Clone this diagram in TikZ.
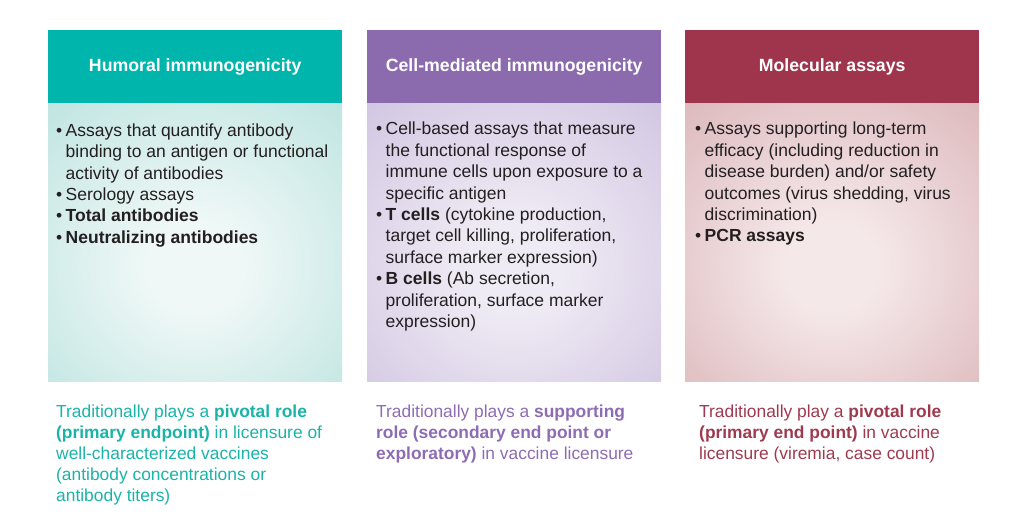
\documentclass[tikz,border=0pt]{standalone}
\usepackage{fontspec}
\setmainfont{Liberation Sans}
\definecolor{thead}{HTML}{00B5AC}
\definecolor{phead}{HTML}{8B6BAD}
\definecolor{rhead}{HTML}{9E354C}
\definecolor{ttxt}{HTML}{1AB3A8}
\definecolor{ptxt}{HTML}{8D6CB3}
\definecolor{rtxt}{HTML}{9E3A4F}
\definecolor{tin}{HTML}{EFF8F7}
\definecolor{tout}{HTML}{A5DAD5}
\definecolor{pin}{HTML}{EFEBF4}
\definecolor{pout}{HTML}{C2B2D8}
\definecolor{rin}{HTML}{F5E8E9}
\definecolor{rout}{HTML}{CF9FA4}
\definecolor{ink}{HTML}{231F20}
\pgfdeclareradialshading{glowT}{\pgfpoint{0bp}{-5bp}}{color(0bp)=(tin); color(8bp)=(tin); color(54bp)=(tout); color(80bp)=(tout)}
\pgfdeclareradialshading{glowP}{\pgfpoint{0bp}{-5bp}}{color(0bp)=(pin); color(8bp)=(pin); color(54bp)=(pout); color(80bp)=(pout)}
\pgfdeclareradialshading{glowR}{\pgfpoint{0bp}{-5bp}}{color(0bp)=(rin); color(8bp)=(rin); color(54bp)=(rout); color(80bp)=(rout)}
\newcommand{\bul}{\makebox[9.5pt][l]{•}}
\newcommand{\ind}{\hspace*{9.5pt}}
\tikzset{
  hdr/.style={anchor=north west, minimum width=294pt, minimum height=73pt, inner sep=0pt, text=white, font=\bfseries\fontsize{17.7}{20}\selectfont},
  bodybox/.style={anchor=north west, minimum width=294pt, minimum height=278pt, inner sep=0pt},
  bodytext/.style={anchor=north west, align=left, inner sep=0pt, text=ink, font=\fontsize{17.5}{21.4}\selectfont},
  bottext/.style={anchor=north west, align=left, inner sep=0pt, font=\fontsize{17.4}{21}\selectfont}
}
\begin{document}
\begin{tikzpicture}[x=1pt,y=-1pt]
\useasboundingbox (0,0) rectangle (1031,526);
% column 1
\node[hdr, fill=thead] (h1) at (48,30) {Humoral immunogenicity};
\node[bodybox, shading=glowT] (b1) at (48,103) {};
\node[bodytext] (t1) at (56,123.5) {\bul Assays that quantify antibody\\ \ind binding to an antigen or functional\\ \ind activity of antibodies\\ \bul Serology assays\\ \bul\textbf{Total antibodies}\\ \bul\textbf{Neutralizing antibodies}};
\node[bottext, text=ttxt] (c1) at (56,404.5) {Traditionally plays a \textbf{pivotal role}\\ \textbf{(primary endpoint)} in licensure of\\ well-characterized vaccines\\ (antibody concentrations or\\ antibody titers)};
% column 2
\node[hdr, fill=phead] (h2) at (367,30) {Cell-mediated immunogenicity};
\node[bodybox, shading=glowP] (b2) at (367,103) {};
\node[bodytext] (t2) at (376,122) {\bul Cell-based assays that measure\\ \ind the functional response of\\ \ind immune cells upon exposure to a\\ \ind specific antigen\\ \bul\textbf{T cells} (cytokine production,\\ \ind target cell killing, proliferation,\\ \ind surface marker expression)\\ \bul\textbf{B cells} (Ab secretion,\\ \ind proliferation, surface marker\\ \ind expression)};
\node[bottext, text=ptxt] (c2) at (376,404.5) {Traditionally plays a \textbf{supporting}\\ \textbf{role (secondary end point or}\\ \textbf{exploratory)} in vaccine licensure};
% column 3
\node[hdr, fill=rhead] (h3) at (685,30) {Molecular assays};
\node[bodybox, shading=glowR] (b3) at (685,103) {};
\node[bodytext] (t3) at (695,122) {\bul Assays supporting long-term\\ \ind efficacy (including reduction in\\ \ind disease burden) and/or safety\\ \ind outcomes (virus shedding, virus\\ \ind discrimination)\\ \bul\textbf{PCR assays}};
\node[bottext, text=rtxt] (c3) at (699,404.5) {Traditionally play a \textbf{pivotal role}\\ \textbf{(primary end point)} in vaccine\\ licensure (viremia, case count)};
\end{tikzpicture}
\end{document}
